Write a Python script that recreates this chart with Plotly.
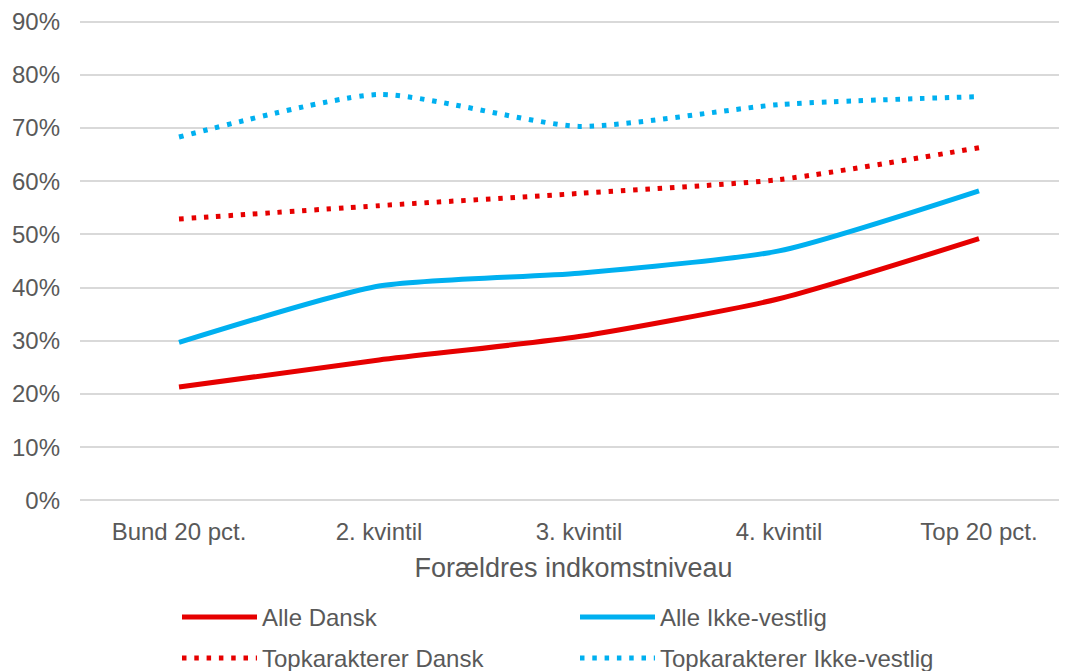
import plotly.graph_objects as go

categories = ["Bund 20 pct.", "2. kvintil", "3. kvintil", "4. kvintil", "Top 20 pct."]
alle_dansk = [21.3, 26.4, 30.8, 37.9, 49.2]
alle_ikke_vestlig = [29.7, 40.3, 42.7, 46.9, 58.2]
top_dansk = [52.9, 55.4, 57.7, 60.3, 66.3]
top_ikke_vestlig = [68.3, 76.3, 70.3, 74.4, 75.9]
y_ticks = list(range(0, 91, 10))

RED = "#E60000"
BLUE = "#00B0F0"
TXT = "#595959"
FONT = "Liberation Sans, Arial, sans-serif"

W, H = 1059, 663  # page body adds an 8px offset

fig = go.Figure()
series = [
    ("Alle Dansk", alle_dansk, RED, "solid", "legend"),
    ("Alle Ikke-vestlig", alle_ikke_vestlig, BLUE, "solid", "legend"),
    ("Topkarakterer Dansk", top_dansk, RED, "4.5px,7.8px", "legend2"),
    ("Topkarakterer Ikke-vestlig", top_ikke_vestlig, BLUE, "4.5px,7.8px", "legend2"),
]
for name, vals, col, dash, leg in series:
    fig.add_trace(go.Scatter(
        x=categories, y=vals, name=name, mode="lines", legend=leg,
        line=dict(color=col, width=5, dash=dash, shape="spline", smoothing=0.6),
    ))

legend_common = dict(
    orientation="h", xref="container", yref="container",
    x=169 / W, xanchor="left", yanchor="top",
    entrywidth=308, entrywidthmode="pixels", itemwidth=75,
    font=dict(size=24, color=TXT), bgcolor="rgba(0,0,0,0)",
)

fig.update_layout(
    width=W, height=H,
    margin=dict(l=72, r=0, t=9, b=169),
    paper_bgcolor="white", plot_bgcolor="white",
    font=dict(family=FONT, size=24, color=TXT),
    xaxis=dict(
        range=[-0.495, 4.44], showgrid=False, zeroline=False, showline=False,
        ticks="", ticklabelstandoff=13, tickfont=dict(size=24, color=TXT),
        title=dict(text="Forældres indkomstniveau", font=dict(size=27, color=TXT), standoff=14),
    ),
    yaxis=dict(
        range=[-0.3, 90.3], tickvals=y_ticks, ticktext=[f"{v}%" for v in y_ticks],
        showgrid=True, gridcolor="#D9D9D9", gridwidth=1.5,
        zeroline=False, showline=False, ticks="", ticklabelstandoff=19,
        ticklabeloverflow="allow",
        tickfont=dict(size=24, color=TXT),
    ),
    legend=dict(legend_common, y=1 - 587 / H),
    legend2=dict(legend_common, y=1 - 628 / H),
    showlegend=True,
)

fig.write_html("out.html")
